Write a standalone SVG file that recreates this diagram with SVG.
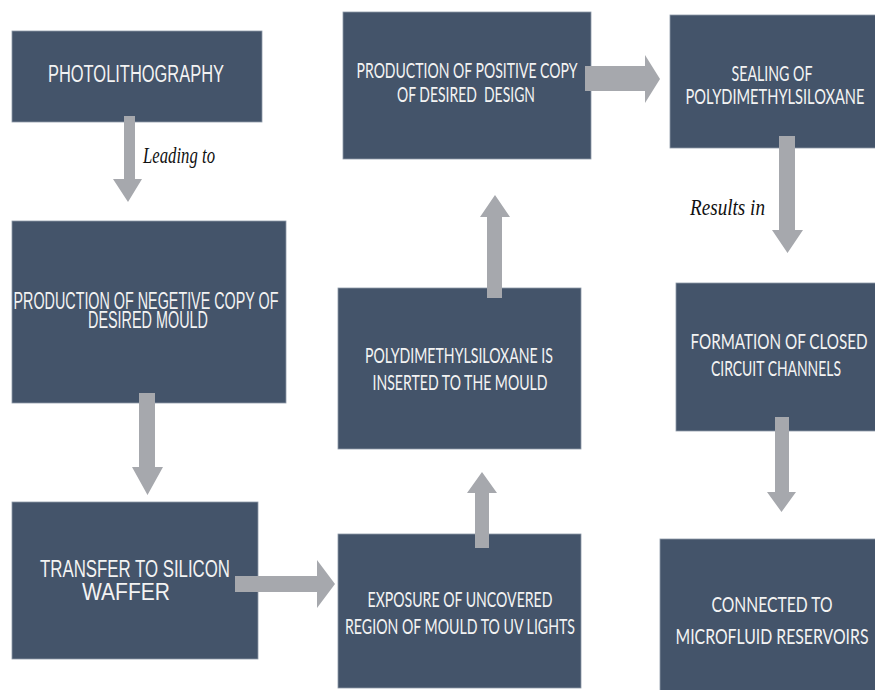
<svg xmlns="http://www.w3.org/2000/svg" width="875" height="690" viewBox="0 0 875 690">
<style>
.box{fill:#44546a;stroke:#8e99a8;stroke-width:0.8}
.arr{fill:#a6a8ad}
.tn{font-family:"Liberation Sans",Arial,sans-serif;font-size:23px;fill:#f3f3f3;text-anchor:middle}
.tc{font-family:Lato,"Open Sans",sans-serif;font-size:21px;fill:#f3f3f3;text-anchor:middle}
.lab{font-family:"Liberation Serif","Times New Roman",serif;font-style:italic;font-size:23px;fill:#111}
</style>
<rect width="875" height="690" fill="#ffffff"/>
<g id="n1">
<rect class="box" x="12" y="31" width="250" height="91"/>
<text class="tn" x="136" y="82" textLength="176" lengthAdjust="spacingAndGlyphs">PHOTOLITHOGRAPHY</text>
</g>
<g id="n2">
<rect class="box" x="12" y="221" width="274" height="182"/>
<text class="tn" x="146" y="309" textLength="265" lengthAdjust="spacingAndGlyphs">PRODUCTION OF NEGETIVE COPY OF</text>
<text class="tn" x="148" y="328" textLength="120" lengthAdjust="spacingAndGlyphs">DESIRED MOULD</text>
</g>
<g id="n3">
<rect class="box" x="12" y="502" width="246" height="157"/>
<text class="tn" x="135" y="577" textLength="190" lengthAdjust="spacingAndGlyphs">TRANSFER TO SILICON</text>
<text class="tn" x="126" y="600" textLength="88" lengthAdjust="spacingAndGlyphs">WAFFER</text>
</g>
<g id="n4">
<rect class="box" x="338" y="534" width="243" height="154"/>
<text class="tc" x="460" y="607" textLength="185" lengthAdjust="spacingAndGlyphs">EXPOSURE OF UNCOVERED</text>
<text class="tc" x="460" y="634" textLength="230" lengthAdjust="spacingAndGlyphs">REGION OF MOULD TO UV LIGHTS</text>
</g>
<g id="n5">
<rect class="box" x="338" y="288" width="243" height="161"/>
<text class="tc" x="459" y="363" textLength="188" lengthAdjust="spacingAndGlyphs">POLYDIMETHYLSILOXANE IS</text>
<text class="tc" x="460" y="390" textLength="175" lengthAdjust="spacingAndGlyphs">INSERTED TO THE MOULD</text>
</g>
<g id="n6">
<rect class="box" x="343" y="12" width="248" height="147"/>
<text class="tc" x="467" y="78" textLength="221" lengthAdjust="spacingAndGlyphs">PRODUCTION OF POSITIVE COPY</text>
<text class="tc" x="466" y="102" textLength="138" lengthAdjust="spacingAndGlyphs" xml:space="preserve">OF DESIRED  DESIGN</text>
</g>
<g id="n7">
<rect class="box" x="670" y="15" width="206" height="133"/>
<text class="tc" x="772" y="81" textLength="81" lengthAdjust="spacingAndGlyphs">SEALING OF</text>
<text class="tc" x="775" y="104" textLength="179" lengthAdjust="spacingAndGlyphs">POLYDIMETHYLSILOXANE</text>
</g>
<g id="n8">
<rect class="box" x="676" y="283" width="200" height="148"/>
<text class="tc" x="779" y="349" textLength="177" lengthAdjust="spacingAndGlyphs">FORMATION OF CLOSED</text>
<text class="tc" x="776" y="376" textLength="130" lengthAdjust="spacingAndGlyphs">CIRCUIT CHANNELS</text>
</g>
<g id="n9">
<rect class="box" x="660" y="539" width="216" height="152"/>
<text class="tc" x="772" y="612" textLength="121" lengthAdjust="spacingAndGlyphs">CONNECTED TO</text>
<text class="tc" x="772" y="644" textLength="193" lengthAdjust="spacingAndGlyphs">MICROFLUID RESERVOIRS</text>
</g>
<g id="connectors">
<polygon class="arr" points="124,116 135,116 135,179 142,179 128,202 113,179 124,179"/>
<polygon class="arr" points="139,393 155,393 155,467 163,467 147.5,495 132,467 139,467"/>
<polygon class="arr" points="235,576 317,576 317,560 335,584 317,608 317,592 235,592"/>
<polygon class="arr" points="475,548 475,493 467,493 482,472 497,493 489,493 489,548"/>
<polygon class="arr" points="487,298 487,217 480,217 495,195 510,217 502,217 502,298"/>
<polygon class="arr" points="585,66 645,66 645,55 660,79 645,103 645,91 585,91"/>
<polygon class="arr" points="779,136 795,136 795,230 803,230 787.5,253 772,230 779,230"/>
<polygon class="arr" points="775,417 789,417 789,492 796,492 781.5,512 767,492 775,492"/>
<text class="lab" x="143" y="163" textLength="72" lengthAdjust="spacingAndGlyphs">Leading to</text>
<text class="lab" x="690" y="215" textLength="75" lengthAdjust="spacingAndGlyphs">Results in</text>
</g>
</svg>
